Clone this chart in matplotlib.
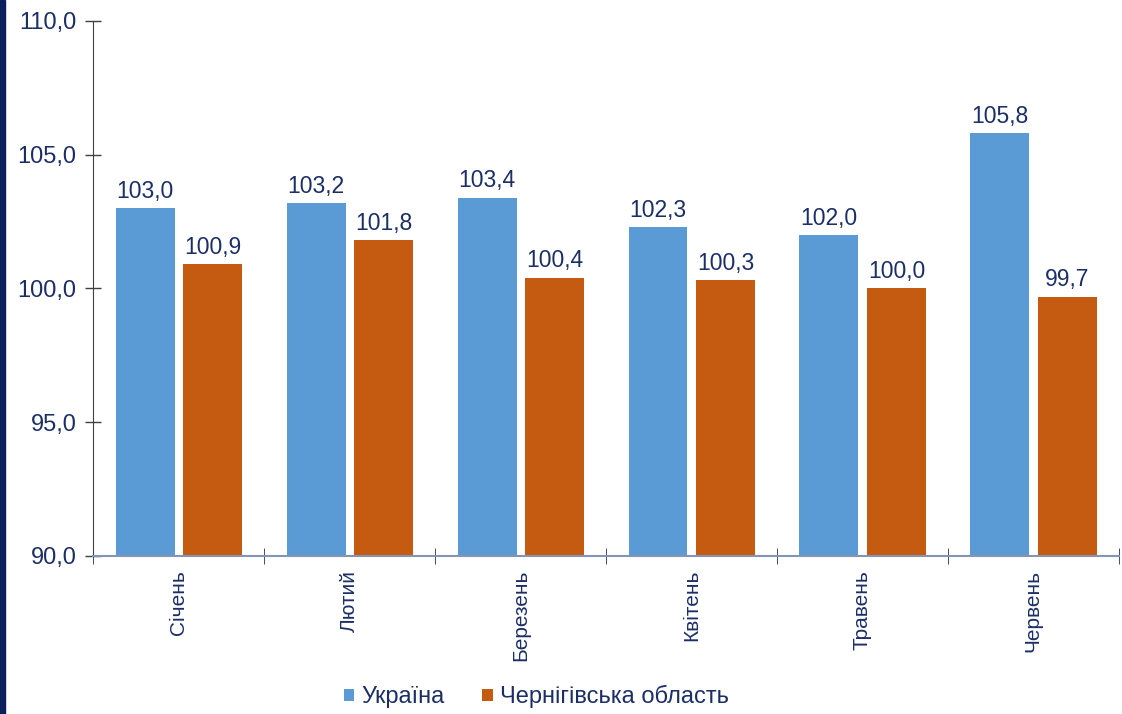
import numpy as np
import matplotlib.pyplot as plt

plt.rcParams['font.family'] = ['Liberation Sans', 'DejaVu Sans']

months = ["Січень", "Лютий", "Березень", "Квітень", "Травень", "Червень"]
ukraine = [103.0, 103.2, 103.4, 102.3, 102.0, 105.8]
chernihiv = [100.9, 101.8, 100.4, 100.3, 100.0, 99.7]

text_c = "#1b2f66"
blue = "#5b9bd5"
orange = "#c55a11"

fig = plt.figure(figsize=(11.22, 7.14), dpi=100)
ax = fig.add_axes([0.083, 0.2213, 0.914, 0.7493])

x = np.arange(len(months))
w = 0.345
b1 = ax.bar(x - 0.195, np.array(ukraine) - 90, w, bottom=90, color=blue, label="Україна")
b2 = ax.bar(x + 0.2, np.array(chernihiv) - 90, w, bottom=90, color=orange, label="Чернігівська область")

for xs, vals in [(x - 0.195, ukraine), (x + 0.2, chernihiv)]:
    for xi, v in zip(xs, vals):
        ax.text(xi, v + 0.2, f"{v:.1f}".replace(".", ","), ha="center", va="bottom",
                fontsize=16.5, color=text_c)

ax.set_ylim(90, 110)
ax.set_xlim(-0.5, len(months) - 0.5)
ax.set_yticks(np.arange(90, 111, 5))
ax.set_yticklabels([f"{t:.1f}".replace(".", ",") for t in np.arange(90, 111, 5)])
ax.set_xticks(x)
ax.set_xticklabels(months, rotation=90)
ax.set_xticks(np.arange(-0.5, len(months)), minor=True)

ax.tick_params(axis="y", direction="inout", length=12, width=1, color="#404040",
               labelsize=17, labelcolor=text_c, pad=6)
ax.tick_params(axis="x", which="major", length=0, labelsize=15, labelcolor=text_c, pad=10)
ax.tick_params(axis="x", which="minor", direction="inout", length=12, color="#1b2f66")

ax.spines["top"].set_visible(False)
ax.spines["right"].set_visible(False)
ax.spines["left"].set_color("#404040")
ax.spines["bottom"].set_color("#8593b5")
ax.spines["bottom"].set_linewidth(1.5)

leg = fig.legend(handles=[b1, b2], loc="lower center", bbox_to_anchor=(0.478, -0.022), ncol=2,
                 frameon=False, fontsize=17, handlelength=0.45, handleheight=0.45,
                 handletextpad=0.3, columnspacing=1.6)
for t in leg.get_texts():
    t.set_color(text_c)

# dark stripe on the left edge
fig.patches.append(plt.Rectangle((0, 0), 0.0045, 1, transform=fig.transFigure,
                                 color="#0b1f5e", zorder=10))

fig.savefig("out.png", dpi=100)
